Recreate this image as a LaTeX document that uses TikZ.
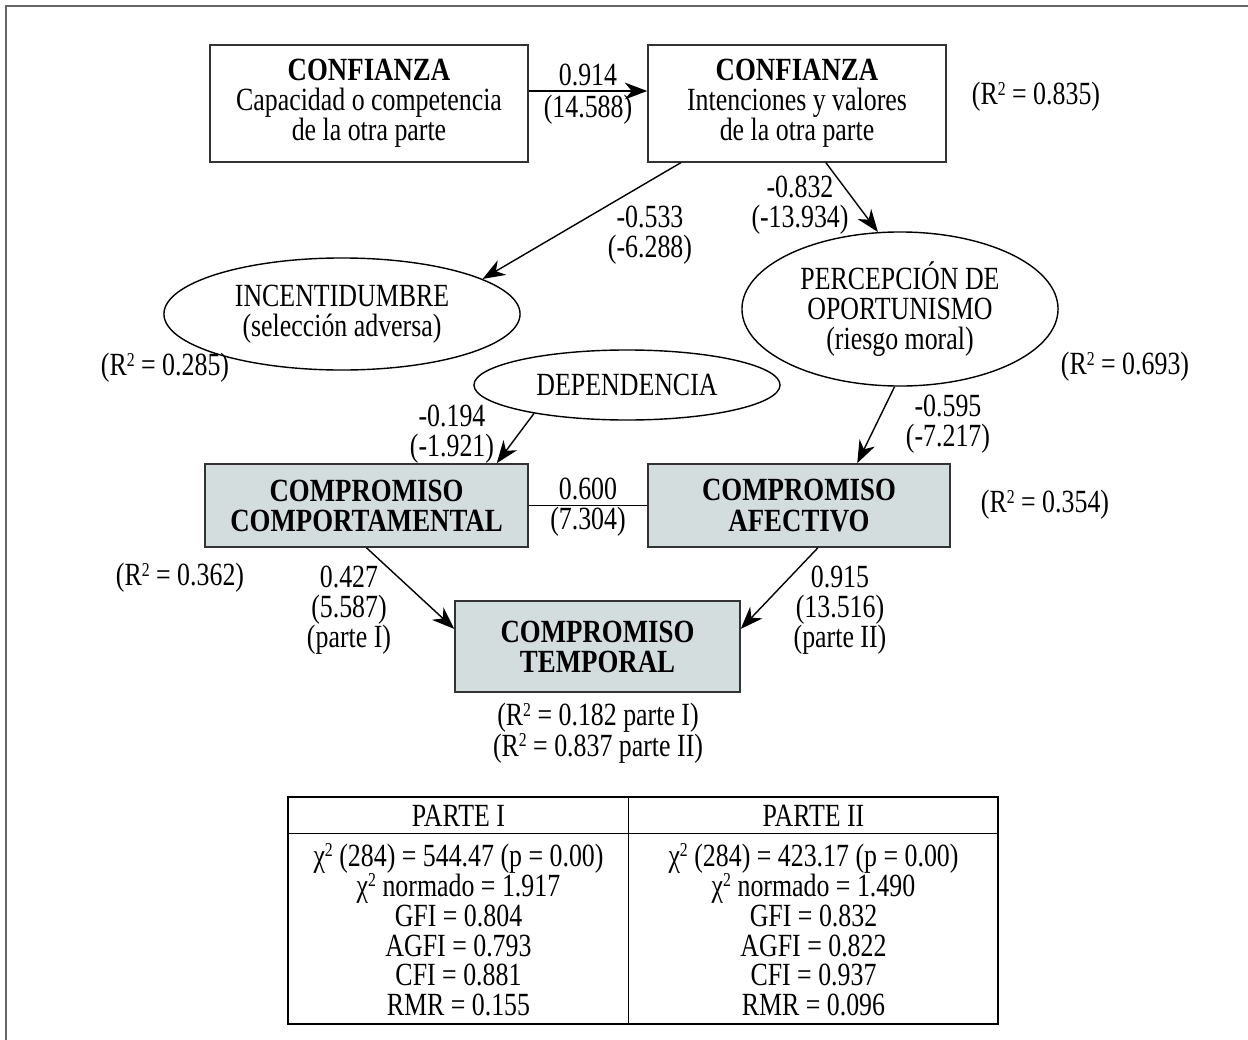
\documentclass[tikz,border=0pt]{standalone}
\usepackage{fontspec}
\setmainfont[FakeStretch=0.8, BoldFeatures={FakeStretch=0.83}]{Liberation Serif}
\usetikzlibrary{arrows.meta,shapes.geometric}
\newcommand{\cuad}{\raisebox{0.3em}{\fontsize{7}{7}\selectfont 2}}

\begin{document}
\begin{tikzpicture}[x=0.0125cm, y=-0.0125cm, >={Stealth[length=8pt,width=6pt,inset=2.5pt]},
        line width=0.5pt,
        every node/.style={font=\fontsize{11.5}{10.7}\selectfont},
        caja/.style={draw=black!80, minimum height=1.46cm, align=center, inner sep=0pt},
        compromiso/.style={caja, fill=cajagris, minimum height=1.04cm, font=\fontsize{11.5}{10.7}\selectfont\bfseries},
        elipse/.style={draw, ellipse, inner sep=0pt, align=center},
        coef/.style={align=center, inner sep=0pt}]
        \definecolor{cajagris}{RGB}{211,221,222}

        \useasboundingbox (0,0) rectangle (1248,1040);
        \draw[black!60, line width=0.8pt] (6,1040) -- (6,6) -- (1248,6);

        \node[caja, minimum width=3.975cm] (capacidad) at (369,103.5) {\textbf{CONFIANZA}\\Capacidad o competencia\\de la otra parte};
        \node[caja, minimum width=3.725cm] (intenciones) at (797,103.5) {\textbf{CONFIANZA}\\Intenciones y valores\\de la otra parte};
        \node[elipse, minimum width=4.45cm, minimum height=1.4cm] (incert) at (342,314) {INCENTIDUMBRE\\(selección adversa)};
        \node[elipse, minimum width=3.95cm, minimum height=1.925cm] (oportun) at (900,309) {PERCEPCIÓN DE\\OPORTUNISMO\\(riesgo moral)};
        \node[elipse, minimum width=3.825cm, minimum height=0.875cm] (depend) at (627,385) {DEPENDENCIA};
        \node[compromiso, minimum width=4.04cm] (comport) at (366.5,505.5) {COMPROMISO\\COMPORTAMENTAL};
        \node[compromiso, minimum width=3.775cm] (afect) at (799,505.5) {COMPROMISO\\AFECTIVO};
        \node[compromiso, minimum width=3.5625cm, minimum height=1.14cm] (temporal) at (597.5,646.5) {COMPROMISO\\TEMPORAL};

        \draw[->] ([yshift=0.156cm]capacidad.east) -- ([yshift=0.156cm]intenciones.west);
        \draw[->] (intenciones.-153) -- (incert.14);
        \draw[->] (intenciones.-64) -- (oportun.106);
        \draw[->] (depend.197) -- (comport.18);
        \draw[->] (oportun.-94) -- (afect.36);
        \draw (comport.east) -- (afect.west);
        \draw[->] (comport.south) -- (temporal.173);
        \draw[->] (afect.-66) -- (temporal.7);

        % coeficientes
        \node[coef, font=\fontsize{11.5}{11.2}\selectfont] (c914) at (588,94) {0.914\\(14.588)};
        \node[coef] (c533) at (650,235) {-0.533\\(-6.288)};
        \node[coef] (c832) at (800,205) {-0.832\\(-13.934)};
        \node[coef] (c194) at (452,434) {-0.194\\(-1.921)};
        \node[coef] (c595) at (948,424) {-0.595\\(-7.217)};
        \node[coef] (c600) at (588,507) {0.600\\(7.304)};
        \node[coef] (c427) at (349,610) {0.427\\(5.587)\\(parte I)};
        \node[coef] (c915) at (840,610) {0.915\\(13.516)\\(parte II)};

        % R2
        \node[coef] (r835) at (1036,97) {(R\cuad{} = 0.835)};
        \node[coef] (r285) at (165,368) {(R\cuad{} = 0.285)};
        \node[coef] (r693) at (1125,367) {(R\cuad{} = 0.693)};
        \node[coef] (r354) at (1045,505) {(R\cuad{} = 0.354)};
        \node[coef] (r362) at (180,578) {(R\cuad{} = 0.362)};
        \node[coef, font=\fontsize{11.5}{10.8}\selectfont] (rtemp) at (598,733) {(R\cuad{} = 0.182 parte I)\\(R\cuad{} = 0.837 parte II)};

        % tabla de ajuste
        \node[draw, minimum width=8.875cm, minimum height=2.8375cm, inner sep=0pt] (tabla) at (643,910.5) {};
        \draw ([yshift=-0.4625cm]tabla.north west) -- ([yshift=-0.4625cm]tabla.north east);
        \draw ([xshift=4.2625cm]tabla.north west) -- ([xshift=4.2625cm]tabla.south west);
        \node[coef] (parte1) at (458.5,815.5) {PARTE I};
        \node[coef] (parte2) at (813.5,815.5) {PARTE II};
        \node[coef, font=\fontsize{11.5}{10.6}\selectfont] (ajuste1) at (458.5,930) {χ\cuad{} (284) = 544.47 (p = 0.00)\\χ\cuad{} normado = 1.917\\GFI = 0.804\\AGFI = 0.793\\CFI = 0.881\\RMR = 0.155};
        \node[coef, font=\fontsize{11.5}{10.6}\selectfont] (ajuste2) at (813.5,930) {χ\cuad{} (284) = 423.17 (p = 0.00)\\χ\cuad{} normado = 1.490\\GFI = 0.832\\AGFI = 0.822\\CFI = 0.937\\RMR = 0.096};
\end{tikzpicture}
\end{document}
